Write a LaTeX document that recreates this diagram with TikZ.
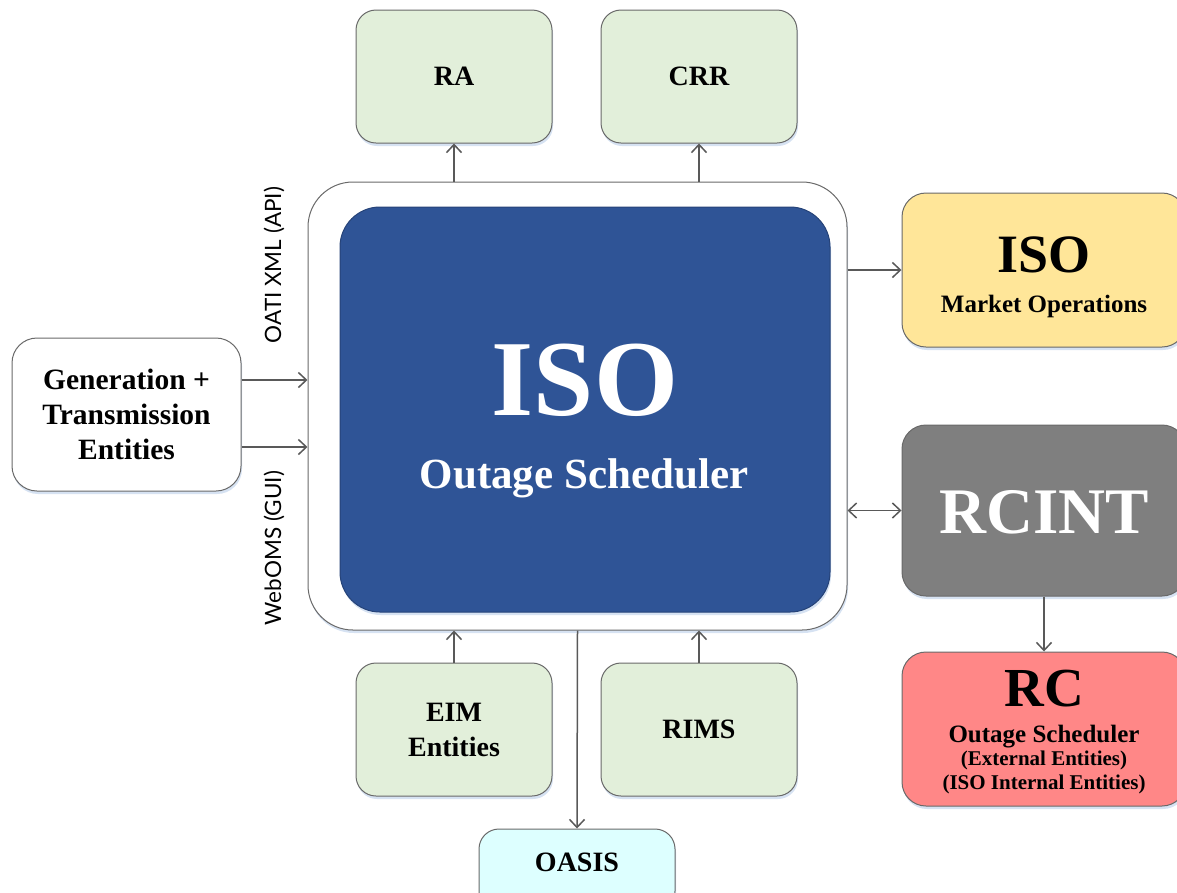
\documentclass[tikz,border=0pt]{standalone}
\usepackage{fontspec}
\setmainfont{Liberation Serif}
\newfontfamily\apifont{Lato}
\usepackage{tikz}
\usetikzlibrary{arrows.meta, shadows}

\definecolor{boxline}{RGB}{105,105,105}
\definecolor{connline}{RGB}{89,89,89}
\definecolor{boxgreen}{RGB}{226,239,218}
\definecolor{coreblue}{RGB}{47,84,150}
\definecolor{mktyellow}{RGB}{255,230,153}
\definecolor{rcintgray}{RGB}{127,127,127}
\definecolor{rcred}{RGB}{255,135,135}
\definecolor{oasiscyan}{RGB}{221,255,255}
\definecolor{shadowblue}{RGB}{214,226,242}

\tikzset{
	box/.style = {draw = boxline, line width = 1pt, rounded corners = 20pt, inner sep = 0pt, align = center,
		font = \bfseries\fontsize{28}{35}\selectfont,
		drop shadow = {shadow xshift = 1pt, shadow yshift = -3pt, fill = shadowblue, opacity = 1}},
	sidebox/.style = {box, rounded corners = 24pt, minimum width = 284pt},
	conn/.style = {draw = connline, line width = 1.5pt, -{Straight Barb[length = 8pt, width = 15pt]}},
	apilabel/.style = {font = \apifont\fontsize{22.5}{26}\selectfont, rotate = 90, inner sep = 0pt}
}

\begin{document}
\begin{tikzpicture}[x = 1pt, y = -1pt]
	\def\W{1177};
	\def\H{892};
	\def\smallW{196};
	\def\smallH{133};
	\def\sideX{1044};

	\useasboundingbox (0,0) rectangle (\W,\H);
	\clip (0,0) rectangle (\W,\H);

	\begin{scope}
		\node [box, fill = white, rounded corners = 45pt, minimum width = 539pt, minimum height = 448pt, drop shadow = {opacity = 0}] (frame) at (577.5,406) {};
		\node [box, draw = coreblue!80!black, fill = coreblue, rounded corners = 40pt, minimum width = 490pt, minimum height = 405pt] (core) at (585,409.5) {};
		\node [anchor = base, text = white, font = \bfseries\fontsize{108}{110}\selectfont] (coretitle) at (585,415) {ISO};
		\node [anchor = base, text = white, font = \bfseries\fontsize{43}{48}\selectfont] (coresub) at (584,488) {Outage Scheduler};
	\end{scope}

	\begin{scope}
		\node [box, fill = boxgreen, minimum width = \smallW pt, minimum height = \smallH pt] (ra) at (454,76.5) {RA};
		\node [box, fill = boxgreen, minimum width = \smallW pt, minimum height = \smallH pt] (crr) at (699,76.5) {CRR};
		\node [box, fill = boxgreen, minimum width = \smallW pt, minimum height = \smallH pt] (eim) at (454,729.5) {EIM\\Entities};
		\node [box, fill = boxgreen, minimum width = \smallW pt, minimum height = \smallH pt] (rims) at (699,729.5) {RIMS};
		\node [box, fill = oasiscyan, minimum width = \smallW pt, minimum height = 82pt] (oasis) at (577,870) {};
		\node [anchor = base, font = \bfseries\fontsize{28}{35}\selectfont] (oasistext) at (577,871) {OASIS};
	\end{scope}

	\begin{scope}
		\node [box, fill = white, rounded corners = 25pt, minimum width = 229pt, minimum height = 153pt, font = \bfseries\fontsize{29.5}{35}\selectfont] (gen) at (126.5,414.5) {Generation +\\Transmission\\Entities};
		\node [apilabel] (apitop) at (274,265) {OATI XML (API)};
		\node [apilabel] (apibot) at (274,548) {WebOMS (GUI)};
	\end{scope}

	\begin{scope}
		\node [sidebox, fill = mktyellow, minimum height = 154pt] (mkt) at (\sideX,270) {};
		\node [anchor = base, font = \bfseries\fontsize{54}{60}\selectfont] (mkttitle) at (\sideX,272) {ISO};
		\node [anchor = base, font = \bfseries\fontsize{25}{30}\selectfont] (mktsub) at (\sideX,312) {Market Operations};

		\node [sidebox, fill = rcintgray, minimum height = 171pt] (rcint) at (\sideX,510.5) {};
		\node [anchor = base, text = white, font = \bfseries\fontsize{65}{70}\selectfont] (rcinttitle) at (\sideX,533) {RCINT};

		\node [sidebox, fill = rcred, minimum height = 154pt] (rc) at (\sideX,729) {};
		\node [anchor = base, font = \bfseries\fontsize{55}{60}\selectfont] (rctitle) at (\sideX,706) {RC};
		\node [anchor = base, font = \bfseries\fontsize{25}{30}\selectfont] (rcsub) at (\sideX,742) {Outage Scheduler};
		\node [anchor = base, font = \bfseries\fontsize{21}{25}\selectfont] (rcext) at (\sideX,765) {(External Entities)};
		\node [anchor = base, font = \bfseries\fontsize{21}{25}\selectfont] (rcint2) at (\sideX,789) {(ISO Internal Entities)};
	\end{scope}

	\begin{scope}
		\draw [conn] (ra.south |- frame.north) -- (ra.south);
		\draw [conn] (crr.south |- frame.north) -- (crr.south);
		\draw [conn] (eim.north) -- (eim.north |- frame.south);
		\draw [conn] (rims.north) -- (rims.north |- frame.south);
		\draw [conn] (frame.south) -- (oasis.north);
		\draw [conn] (gen.east |- 0,380) -- (frame.west |- 0,380);
		\draw [conn] (gen.east |- 0,447) -- (frame.west |- 0,447);
		\draw [conn] (frame.east |- mkt.west) -- (mkt.west);
		\draw [conn, {Straight Barb[length = 8pt, width = 15pt]}-{Straight Barb[length = 8pt, width = 15pt]}] (frame.east |- rcint.west) -- (rcint.west);
		\draw [conn] (rcint.south) -- (rc.north);
	\end{scope}
\end{tikzpicture}
\end{document}
